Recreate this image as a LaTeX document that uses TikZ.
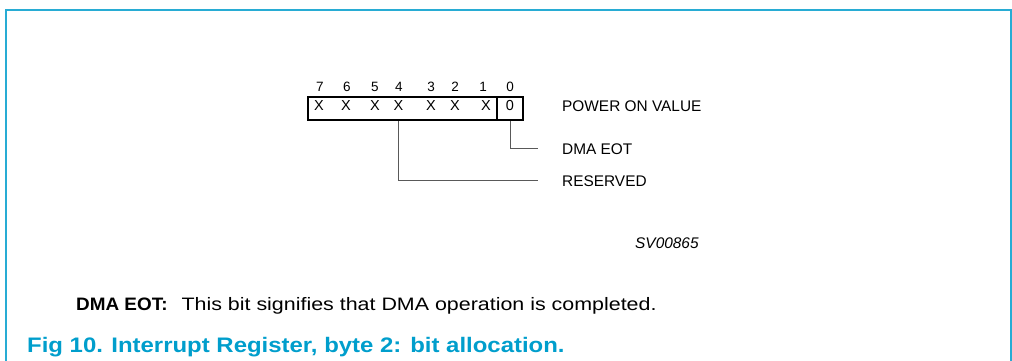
\documentclass[tikz,border=0pt]{standalone}
\usepackage{fontspec}
\setmainfont{Liberation Sans}
\newfontfamily\capfont{Liberation Sans}[FakeStretch=1.14]
\newfontfamily\descfont{Liberation Sans}[FakeStretch=1.19]
\newfontfamily\descbfont{Liberation Sans}[FakeStretch=1.05]
\definecolor{capblue}{RGB}{0,158,204}
\definecolor{framecol}{RGB}{40,172,212}
\tikzset{
  regbox/.style={draw=black, line width=2.2bp, inner sep=0pt, minimum height=23bp, anchor=north west},
  bitval/.style={font=\fontsize{14.5bp}{16bp}\selectfont, inner sep=0pt, anchor=base},
  bitnum/.style={font=\fontsize{13.5bp}{15bp}\selectfont, inner sep=0pt, anchor=base},
  lbl/.style={font=\fontsize{15.4bp}{18bp}\selectfont, inner sep=0pt, anchor=base west},
  leader/.style={draw=black!65, line width=1bp},
  framerule/.style={draw=framecol, line width=1.5bp}
}
\begin{document}
\begin{tikzpicture}[x=1bp,y=-1bp]
\useasboundingbox (0,0) rectangle (1012,360);
\draw[framerule] (6,370) -- (6,10) -- (1011,10) -- (1011,370);
% register
\node[regbox, minimum width=189bp] (reg) at (307,96) {};
\node[regbox, minimum width=26bp] (b0) at (496,96) {};
% bit numbers
\node[bitnum] (n7) at (320,91.5) {7};
\node[bitnum] (n6) at (347,91.5) {6};
\node[bitnum] (n5) at (375,91.5) {5};
\node[bitnum] (n4) at (399,91.5) {4};
\node[bitnum] (n3) at (431,91.5) {3};
\node[bitnum] (n2) at (455,91.5) {2};
\node[bitnum] (n1) at (483,91.5) {1};
\node[bitnum] (n0) at (510,91.5) {0};
% bit values
\node[bitval] (x7) at (319,110.5) {X};
\node[bitval] (x6) at (346,110.5) {X};
\node[bitval] (x5) at (375,110.5) {X};
\node[bitval] (x4) at (398.5,110.5) {X};
\node[bitval] (x3) at (431,110.5) {X};
\node[bitval] (x2) at (455,110.5) {X};
\node[bitval] (x1) at (486,110.5) {X};
\node[bitval] (x0) at (510,110.5) {0};
% labels
\node[lbl] (pov) at (562,111) {POWER ON VALUE};
\node[lbl] (dma) at (562,154.5) {DMA EOT};
\node[lbl] (res) at (562,186.5) {RESERVED};
\node[lbl, font=\fontsize{15.4bp}{18bp}\selectfont\itshape] (sv) at (635,248) {SV00865};
% leaders
\coordinate (e0) at (537.5,148.5);
\coordinate (e4) at (537.5,180);
\draw[leader] (b0.south) |- (e0);
\draw[leader] (x4 |- reg.south) |- (e4);
% description
\node[inner sep=0pt, anchor=base west] (desc) at (76,310)
  {\fontsize{18bp}{21bp}\selectfont{\descbfont\bfseries DMA EOT:}\hspace{14bp}{\descfont This bit signifies that DMA operation is completed.}};
% caption
\node[inner sep=0pt, anchor=base west, text=capblue] (cap) at (27,352)
  {\fontsize{21bp}{24bp}\selectfont\capfont\bfseries Fig 10.\hspace{0.4em}Interrupt Register, byte 2: bit allocation.};
\end{tikzpicture}
\end{document}
